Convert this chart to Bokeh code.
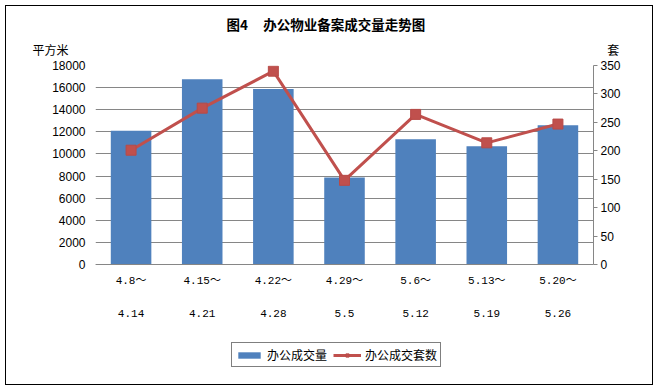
from bokeh.plotting import figure
from bokeh.models import (Range1d, LinearAxis, FixedTicker, Title, Legend, LegendItem,
                          ColumnDataSource, Span)
from bokeh.core.properties import value
from bokeh.embed import file_html
from bokeh.resources import INLINE

# ---- data ----
categories = ["4.8～4.14", "4.15～4.21", "4.22～4.28", "4.29～5.5",
              "5.6～5.12", "5.13～5.19", "5.20～5.26"]
label_line1 = ["4.8～", "4.15～", "4.22～", "4.29～", "5.6～", "5.13～", "5.20～"]
label_line2 = ["4.14", "4.21", "4.28", "5.5", "5.12", "5.19", "5.26"]
area_values = [12100, 16750, 15880, 7880, 11330, 10700, 12600]   # 平方米
unit_values = [201, 275, 340, 148, 264, 214, 247]                # 套
left_ticks = [0, 2000, 4000, 6000, 8000, 10000, 12000, 14000, 16000, 18000]
right_ticks = [0, 50, 100, 150, 200, 250, 300, 350]
left_max = 18000
right_max = 350

title_text = "图4" + "\u00a0" * 5 + "办公物业备案成交量走势图"
left_unit = "平方米"
right_unit = "套"
bar_name = "办公成交量"
line_name = "办公成交套数"

BLUE = "#4F81BD"
RED = "#C0504D"
GRID = "#868686"
CJK = "Noto Sans CJK SC"
MONO = "Liberation Mono, Noto Sans CJK SC"

# layout (pixels): plotting band height and the band below it holding category labels + legend
PLOT_PX = 199
BELOW_PX = 114
below_frac = BELOW_PX / PLOT_PX

xpos = list(range(len(categories)))
src = ColumnDataSource(dict(x=xpos, cat=categories, area=area_values, units=unit_values,
                            l1=label_line1, l2=label_line2))

p = figure(frame_width=498, frame_height=PLOT_PX + BELOW_PX, output_backend="svg",
           toolbar_location=None, x_axis_location=None,
           x_range=Range1d(-0.5, len(categories) - 0.5),
           y_range=Range1d(-left_max * below_frac, left_max), title=None,
           min_border_left=89, min_border_right=59, min_border_top=0, min_border_bottom=6)
p.margin = (5, 0, 0, 5)
p.styles = {"border": "1px solid black", "box-sizing": "border-box"}
p.outline_line_color = None
p.background_fill_color = "white"
p.border_fill_color = "white"

p.extra_y_ranges = {"right": Range1d(-right_max * below_frac, right_max)}

bars = p.vbar(x="x", top="area", width=0.57, source=src, fill_color=BLUE, line_color=None)
ln = p.line(x="x", y="units", source=src, y_range_name="right", line_color=RED, line_width=3)
sc = p.scatter(x="x", y="units", source=src, y_range_name="right", marker="square",
               size=10, fill_color=RED, line_color="#B84A47", line_width=1)

p.xgrid.grid_line_color = None
p.ygrid.grid_line_color = GRID
p.ygrid.grid_line_width = 1
p.ygrid.ticker = FixedTicker(ticks=left_ticks)

# category axis baseline at zero
p.add_layout(Span(location=0, dimension="width", line_color=GRID, line_width=1))

ya = p.yaxis[0]
ya.ticker = FixedTicker(ticks=left_ticks)
ya.axis_line_color = None
ya.major_tick_line_color = None
ya.major_tick_out = 0
ya.major_tick_in = 0
ya.minor_tick_line_color = None
ya.major_label_standoff = 10
ya.major_label_text_font = "Liberation Sans"
ya.major_label_text_font_size = "12px"
ya.major_label_text_color = "black"

ra = LinearAxis(y_range_name="right", ticker=FixedTicker(ticks=right_ticks),
                bounds=(0, right_max))
ra.axis_line_color = GRID
ra.major_tick_line_color = GRID
ra.major_tick_out = 4
ra.major_tick_in = 0
ra.minor_tick_line_color = None
ra.major_label_standoff = 3
ra.major_label_text_font = "Liberation Sans"
ra.major_label_text_font_size = "12px"
ra.major_label_text_color = "black"
p.add_layout(ra, "right")

# category tick labels (two lines) below the baseline
for col, off in (("l1", 16), ("l2", 49)):
    p.text(x="x", y=0, text=col, source=src, y_offset=off, text_align="center",
           text_baseline="middle", text_font=value(MONO), text_font_size="11px",
           text_color="black")

# above: spacer nearest the plot, then unit labels row, then main title
def spacer(size):
    ax = LinearAxis(ticker=FixedTicker(ticks=[xpos[0]]))
    ax.major_label_overrides = {xpos[0]: ""}
    ax.axis_line_color = None
    ax.major_tick_line_color = None
    ax.minor_tick_line_color = None
    ax.major_tick_out = size
    ax.major_tick_in = 0
    ax.major_label_standoff = 0
    ax.major_label_text_font_size = "1px"
    return ax

p.add_layout(spacer(7), "above")
unit_row = left_unit + "\u3000" * 44 + "\u00a0" * 4 + right_unit
p.add_layout(Title(text=unit_row, align="left", offset=-63, standoff=1,
                   text_font=CJK, text_font_size="12px", text_font_style="normal",
                   text_color="black"), "above")
p.add_layout(Title(text=title_text, align="left", offset=131, standoff=10,
                   text_font=CJK, text_font_size="13.5px", text_font_style="bold",
                   text_color="black"), "above")

legend = Legend(items=[LegendItem(label=bar_name, renderers=[bars]),
                       LegendItem(label=line_name, renderers=[ln, sc])],
                location=(136, 11), orientation="horizontal",
                border_line_color="black", border_line_width=1,
                background_fill_color="white", background_fill_alpha=1,
                padding=3, spacing=6, margin=0,
                glyph_width=28, glyph_height=8, label_height=14, label_standoff=4,
                label_text_font=CJK, label_text_font_size="12px", label_text_color="black")
p.add_layout(legend, "center")

open("out.html", "w").write(file_html(p, INLINE))
